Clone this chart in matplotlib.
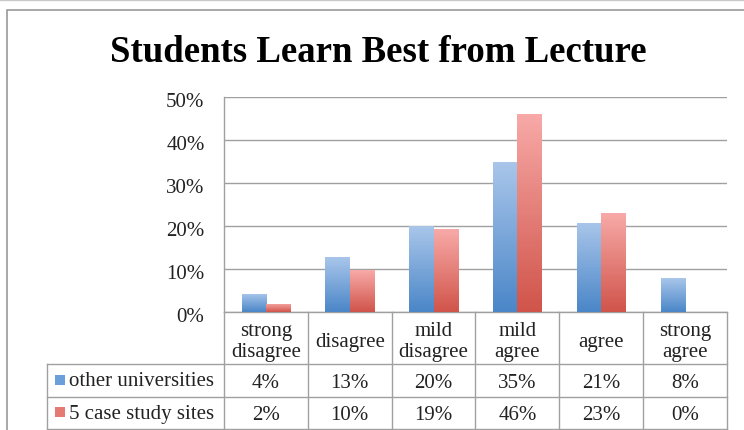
import numpy as np
import matplotlib
matplotlib.use("Agg")
from matplotlib import pyplot as plt
from matplotlib import transforms
from matplotlib.colors import LinearSegmentedColormap
from matplotlib.patches import Rectangle
from matplotlib.lines import Line2D

title = "Students Learn Best from Lecture"
categories = ["strong\ndisagree", "disagree", "mild\ndisagree", "mild\nagree", "agree", "strong\nagree"]
series_names = ["other universities", "5 case study sites"]
other_univ = [4.3, 12.7, 19.9, 34.8, 20.8, 7.8]
case_sites = [1.9, 9.7, 19.2, 46.1, 23.0, 0.0]
other_labels = ["4%", "13%", "20%", "35%", "21%", "8%"]
case_labels = ["2%", "10%", "19%", "46%", "23%", "0%"]
yticks = [0, 10, 20, 30, 40, 50]

plt.rcParams['font.family'] = ['Liberation Serif', 'DejaVu Serif']

blue_cmap = LinearSegmentedColormap.from_list("b", ["#4a86c8", "#a9c6ea"])
red_cmap = LinearSegmentedColormap.from_list("r", ["#d0544a", "#f8aaa8"])
line_col = "#a0a0a0"
txt_col = "#222222"
fs = 15

W, H = 744, 430
fig = plt.figure(figsize=(W / 100, H / 100), dpi=100)
# axes placed in pixel terms
ax_l, ax_r, ax_t, ax_b = 224, 727, 97, 312
ax = fig.add_axes([ax_l / W, (H - ax_b) / H, (ax_r - ax_l) / W, (ax_b - ax_t) / H])

# outer chart frame (runs off the right and bottom edges)
fig.add_artist(Rectangle((7 / W, -0.05), 1.2, (H - 10) / H + 0.05, transform=fig.transFigure,
                         fill=False, edgecolor="#9a9a9a", lw=1.2))
fig.add_artist(Line2D([0, 1], [0.999, 0.999], transform=fig.transFigure, color="#c8c8c8", lw=1))

fig.text(0.508, (H - 53) / H, title, ha="center", va="center", fontsize=26.5,
         fontweight="bold", color="black")

x = np.arange(len(categories))
bw = 0.29
b1 = ax.bar(x - bw / 2, other_univ, bw, facecolor="none", edgecolor="none", zorder=3)
b2 = ax.bar(x + bw / 2, case_sites, bw, facecolor="none", edgecolor="none", zorder=3)

grad = np.linspace(0, 1, 256).reshape(-1, 1)
for bars, cmap in [(b1, blue_cmap), (b2, red_cmap)]:
    for p in bars:
        if p.get_height() <= 0:
            continue
        x0, y0 = p.get_x(), p.get_y()
        im = ax.imshow(grad, cmap=cmap, origin="lower", aspect="auto",
                       extent=[x0, x0 + p.get_width(), y0, y0 + p.get_height()], zorder=3)
        im.set_clip_path(p)

ax.set_xlim(-0.5, len(categories) - 0.5)
ax.set_ylim(0, 50)
ax.set_yticks(yticks)
ax.set_yticklabels([f"{v}%" for v in yticks], fontsize=fs, color=txt_col)
ax.set_xticks([])
ax.tick_params(axis="y", length=0, pad=14)
shift = transforms.ScaledTranslation(0, -3 / 100, fig.dpi_scale_trans)
for lab in ax.get_yticklabels():
    lab.set_transform(lab.get_transform() + shift)
ax.yaxis.grid(True, color=line_col, lw=1)
ax.set_axisbelow(True)
for s in ["top", "right"]:
    ax.spines[s].set_visible(False)
for s in ["left", "bottom"]:
    ax.spines[s].set_color(line_col)
    ax.spines[s].set_linewidth(1)

# data table below the axes
ph = ax_b - ax_t
def ay(ypx):
    return (ax_b - ypx) / ph

blend = transforms.blended_transform_factory(ax.transData, ax.transAxes)
row1, row2, row_end = ay(364), ay(397), ay(429)
left_col = (47 - ax_l) / (ax_r - ax_l)
n = len(categories)
for i in range(n + 1):
    ax.add_line(Line2D([i - 0.5, i - 0.5], [0, row_end], transform=blend, color=line_col,
                       lw=1, clip_on=False))
for yy in [row1, row2, row_end]:
    ax.add_line(Line2D([left_col, 1], [yy, yy], transform=ax.transAxes, color=line_col,
                       lw=1, clip_on=False))
ax.add_line(Line2D([left_col, left_col], [row1, row_end], transform=ax.transAxes,
                   color=line_col, lw=1, clip_on=False))

for i, c in enumerate(categories):
    ax.text(i, ay(342), c, transform=blend, ha="center", va="center", fontsize=fs,
            color=txt_col, linespacing=1.1)
    ax.text(i, ay(383), other_labels[i], transform=blend, ha="center", va="center",
            fontsize=fs, color=txt_col)
    ax.text(i, ay(415), case_labels[i], transform=blend, ha="center", va="center",
            fontsize=fs, color=txt_col)

sw = 10 / (ax_r - ax_l)
for yc, name, col in [(380, series_names[0], "#6b9fd9"), (412, series_names[1], "#e57a74")]:
    ax.add_patch(Rectangle(((55 - ax_l) / (ax_r - ax_l), ay(yc + 5)), sw, 10 / ph,
                           transform=ax.transAxes, facecolor=col, edgecolor="none",
                           clip_on=False))
    ax.text((69 - ax_l) / (ax_r - ax_l), ay(yc + 2), name, transform=ax.transAxes,
            ha="left", va="center", fontsize=fs, color=txt_col)

fig.savefig("out.png", dpi=100)
